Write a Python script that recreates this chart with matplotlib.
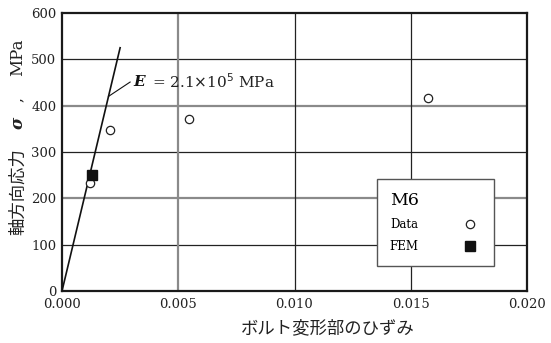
import matplotlib
matplotlib.use("Agg")
import matplotlib.pyplot as plt
import numpy as np

plt.rcParams["font.family"] = ["DejaVu Serif"]
JP = ["Noto Sans CJK JP", "DejaVu Sans"]

# measured strain / stress for the M6 bolt
data_strain = [0.00121, 0.00207, 0.00547, 0.01573]
data_stress = [233, 347, 371, 417]
fem_strain = [0.00129]
fem_stress = [250]

# Young's modulus reference line
E_mod = 2.1e5
line_strain = [0.0, 0.0025]

xticks = [0.000, 0.005, 0.010, 0.015, 0.020]
yticks = [0, 100, 200, 300, 400, 500, 600]

fig = plt.figure(figsize=(5.51, 3.43), dpi=100)
ax = fig.add_axes([62 / 551, 52 / 343, 465 / 551, 278 / 343])
ax.set_xlim(0, 0.020)
ax.set_ylim(0, 600)

# grid: every other line is a heavier grey one
for yv in yticks[1:-1]:
    if yv in (200, 400):
        ax.axhline(yv, color="#8a8a8a", lw=1.6, zorder=1)
    else:
        ax.axhline(yv, color="#222222", lw=0.9, zorder=1)
for xv in xticks[1:-1]:
    if xv == 0.005:
        ax.axvline(xv, color="#8a8a8a", lw=1.6, zorder=1)
    else:
        ax.axvline(xv, color="#222222", lw=0.9, zorder=1)

for s in ax.spines.values():
    s.set_linewidth(1.6)
    s.set_color("#1a1a1a")

ax.set_xticks(xticks)
ax.set_xticklabels([f"{v:.3f}" for v in xticks])
ax.set_yticks(yticks)
ax.tick_params(length=0, labelsize=9.5, colors="#222222", pad=5)
ax.tick_params(axis="y", pad=4)

ax.plot(line_strain, [E_mod * v for v in line_strain], color="#111111", lw=1.2, zorder=3)

h_data, = ax.plot(data_strain, data_stress, "o", ms=6, mfc="white", mec="#222222",
                  mew=0.9, ls="none", zorder=4, label="Data")
h_fem, = ax.plot(fem_strain, fem_stress, "s", ms=6.5, color="#111111", ls="none",
                 zorder=5, label="FEM")

# leader from the modulus line to its label
x0 = 0.0020
ax.plot([x0, 0.00293], [E_mod * x0, 451], color="#111111", lw=0.8, zorder=3)
ax.text(0.00305, 451, "E", fontsize=11, fontweight="bold", fontstyle="italic",
        va="center", ha="left", color="#111111")
ax.text(0.00386, 451, r"= 2.1$\times$10$^{5}$ MPa", fontsize=11, va="center",
        ha="left", color="#222222")

leg = ax.legend(handles=[h_data, h_fem], title="M6", loc="lower left",
                bbox_to_anchor=(0.677, 0.09), markerfirst=False, fancybox=False,
                framealpha=1, edgecolor="#555555", fontsize=8.5, title_fontsize=12.5,
                alignment="left", borderpad=1.1, handletextpad=3.3, labelspacing=0.75,
                borderaxespad=0)
leg.get_frame().set_linewidth(1.0)
leg.set_zorder(6)

fig.text(328 / 551, 1 - 328 / 343, "ボルト変形部のひずみ", family=JP, fontsize=12.5,
         ha="center", va="center", color="#222222")

# vertical axis label built from pieces (Japanese, bold sigma, unit)
fig.text(18 / 551, 1 - 192 / 343, "軸方向応力", family=JP, fontsize=12.5, rotation=90,
         ha="center", va="center", color="#222222")
fig.text(18 / 551, 1 - 123 / 343, "σ", fontsize=12, fontweight="bold", fontstyle="italic",
         rotation=90, ha="center", va="center", color="#222222")
fig.text(18 / 551, 1 - 100 / 343, ",", fontsize=11, rotation=90, ha="center",
         va="center", color="#222222")
fig.text(18 / 551, 1 - 57 / 343, "MPa", fontsize=12, rotation=90, ha="center",
         va="center", color="#222222")

fig.savefig("out.png", dpi=100)
